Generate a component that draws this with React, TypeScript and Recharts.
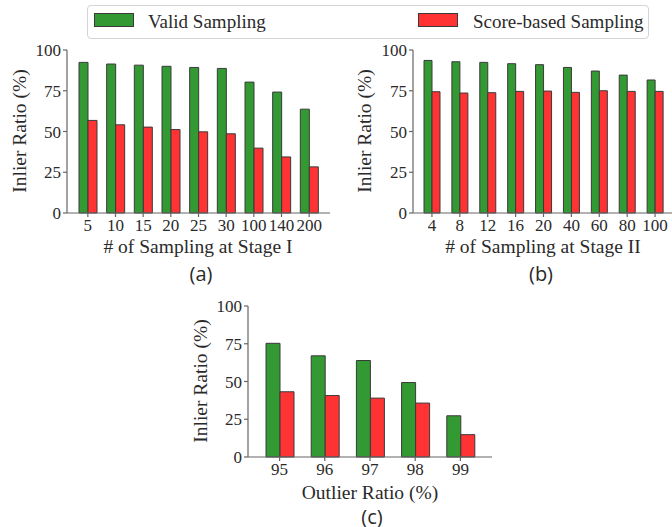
import { BarChart, Bar, XAxis, YAxis } from 'recharts';

const stageICats = ['5', '10', '15', '20', '25', '30', '100', '140', '200'];
const stageIValid = [92.4, 91.4, 90.7, 90, 89.3, 88.7, 80.3, 74.2, 63.7];
const stageIScore = [56.8, 54.1, 52.7, 51.2, 49.8, 48.6, 39.8, 34.4, 28.3];

const stageIICats = ['4', '8', '12', '16', '20', '40', '60', '80', '100'];
const stageIIValid = [93.6, 92.8, 92.4, 91.6, 91, 89.3, 87.1, 84.6, 81.6];
const stageIIScore = [74.4, 73.6, 73.8, 74.6, 74.8, 74, 75, 74.6, 74.6];

const outlierCats = ['95', '96', '97', '98', '99'];
const outlierValid = [75.3, 67, 63.9, 49.3, 27.3];
const outlierScore = [43.2, 40.7, 39, 35.7, 14.8];

const yTicks = [0, 25, 50, 75, 100];

const GREEN = '#339933';
const RED = '#ff3333';
const EDGE = '#3a3a3a';
const AXIS = '#666';
const TEXT = '#2a2a2a';
const SERIF = '"Liberation Serif", "Times New Roman", serif';
const SANS = '"Open Sans", sans-serif';

interface PanelProps {
  cats: string[];
  valid: number[];
  score: number[];
  left: number;
  top: number;
  width: number;
  height: number;
  yAxisWidth: number;
  marginTop: number;
  marginRight: number;
  pad: number;
  barSize: number;
}

function Panel({ cats, valid, score, left, top, width, height, yAxisWidth, marginTop, marginRight, pad, barSize }: PanelProps) {
  const data = cats.map((c, i) => ({ cat: c, valid: valid[i], score: score[i] }));
  const tickStyle = { fontFamily: SERIF, fontSize: 17, fill: TEXT };

  return (
    <div style={{ position: 'absolute', left, top }}>
      <BarChart
        width={width}
        height={height}
        data={data}
        margin={{ top: marginTop, right: marginRight, left: 0, bottom: 0 }}
        barGap={0}
        barSize={barSize}
      >
        <XAxis
          dataKey="cat"
          height={27}
          padding={{ left: pad, right: pad }}
          tick={tickStyle}
          tickSize={4}
          tickMargin={2}
          interval={0}
          stroke={AXIS}
          strokeWidth={1.2}
        />
        {/* top + right spines to close the frame */}
        <XAxis
          xAxisId="top"
          dataKey="cat"
          orientation="top"
          height={0}
          tick={false}
          tickLine={false}
          stroke={AXIS}
          strokeWidth={1.2}
        />
        <YAxis
          width={yAxisWidth}
          domain={[0, 100]}
          ticks={yTicks}
          tick={tickStyle}
          tickSize={4}
          tickMargin={2}
          stroke={AXIS}
          strokeWidth={1.2}
        />
        <YAxis
          yAxisId="right"
          orientation="right"
          width={0}
          domain={[0, 100]}
          tick={false}
          tickLine={false}
          stroke={AXIS}
          strokeWidth={1.2}
        />
        <Bar dataKey="valid" fill={GREEN} stroke={EDGE} strokeWidth={1} isAnimationActive={false} />
        <Bar dataKey="score" fill={RED} stroke={EDGE} strokeWidth={1} isAnimationActive={false} />
      </BarChart>
    </div>
  );
}

function Title({ text, x, y, rotate, size = 19.5, font = SERIF }: { text: string; x: number; y: number; rotate?: boolean; size?: number; font?: string }) {
  return (
    <div
      style={{
        position: 'absolute',
        left: x,
        top: y,
        transform: `translate(-50%, -50%)${rotate ? ' rotate(-90deg)' : ''}`,
        whiteSpace: 'nowrap',
        fontFamily: font,
        fontSize: size,
        color: TEXT,
        lineHeight: 1,
      }}
    >
      {text}
    </div>
  );
}

function LegendBox() {
  const swatch = (color: string, x: number) => (
    <div
      style={{
        position: 'absolute',
        left: x,
        top: 7,
        width: 38,
        height: 12,
        background: color,
        border: `1px solid ${EDGE}`,
      }}
    />
  );
  const label = (text: string, x: number) => (
    <div
      style={{
        position: 'absolute',
        left: x,
        top: 6,
        fontFamily: SERIF,
        fontSize: 19,
        color: TEXT,
        lineHeight: 1,
        whiteSpace: 'nowrap',
      }}
    >
      {text}
    </div>
  );
  return (
    <div
      style={{
        position: 'absolute',
        left: 87,
        top: 5,
        width: 560,
        height: 32,
        border: '1px solid #d4d4d4',
        borderRadius: 4,
        background: '#fff',
      }}
    >
      {swatch(GREEN, 6)}
      {label('Valid Sampling', 60)}
      {swatch(RED, 330)}
      {label('Score-based Sampling', 385)}
    </div>
  );
}

export default function App() {
  return (
    <div style={{ position: 'relative', width: 672, height: 527, overflow: 'hidden', background: '#fff' }}>
      <style>{'body { margin: 0; }'}</style>
      <LegendBox />

      <Panel
        cats={stageICats}
        valid={stageIValid}
        score={stageIScore}
        left={0}
        top={0}
        width={340}
        height={240}
        yAxisWidth={67}
        marginTop={50}
        marginRight={10}
        pad={7}
        barSize={9}
      />
      <Title text="Inlier Ratio (%)" x={20} y={131} rotate />
      <Title text="# of Sampling at Stage I" x={198} y={247} />
      <Title text="(a)" x={201} y={274} size={20} font={SANS} />

      <Panel
        cats={stageIICats}
        valid={stageIIValid}
        score={stageIIScore}
        left={330}
        top={0}
        width={345}
        height={240}
        yAxisWidth={83}
        marginTop={50}
        marginRight={1}
        pad={5}
        barSize={8}
      />
      <Title text="Inlier Ratio (%)" x={365} y={131} rotate />
      <Title text="# of Sampling at Stage II" x={543} y={247} />
      <Title text="(b)" x={541} y={274} size={20} font={SANS} />

      <Panel
        cats={outlierCats}
        valid={outlierValid}
        score={outlierScore}
        left={170}
        top={256}
        width={330}
        height={228}
        yAxisWidth={78}
        marginTop={50}
        marginRight={8}
        pad={9}
        barSize={14}
      />
      <Title text="Inlier Ratio (%)" x={201} y={381} rotate />
      <Title text="Outlier Ratio (%)" x={370} y={493} />
      <Title text="(c)" x={372} y={517} size={20} font={SANS} />
    </div>
  );
}
